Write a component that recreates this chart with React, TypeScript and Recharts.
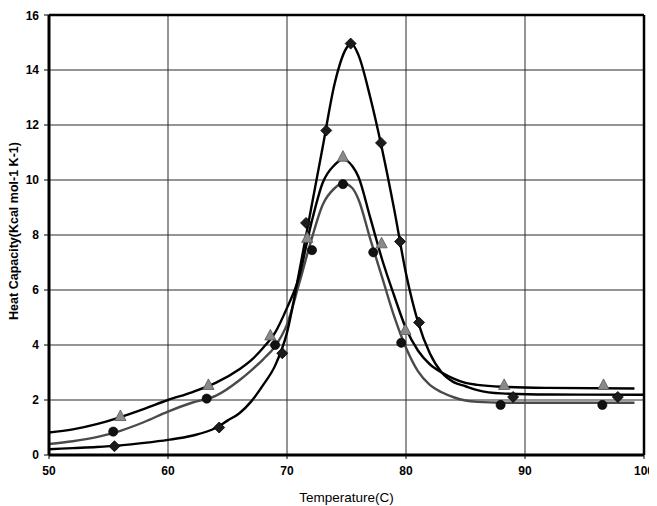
import {
  ComposedChart,
  Line,
  Scatter,
  XAxis,
  YAxis,
  CartesianGrid,
  ReferenceLine,
} from "recharts";

// axis ticks
const tempTicks = [50, 60, 70, 80, 90, 100];
const capTicks = [0, 2, 4, 6, 8, 10, 12, 14, 16];

// measured points
const diamondT = [55.5, 64.3, 69.6, 71.6, 73.3, 75.35, 77.9, 79.5, 81.1, 89.0, 97.8];
const diamondV = [0.32, 1.0, 3.7, 8.44, 11.8, 14.96, 11.35, 7.76, 4.82, 2.11, 2.11];

const circleT = [55.4, 63.25, 69.0, 72.1, 74.7, 77.25, 79.6, 87.95, 96.5];
const circleV = [0.85, 2.05, 4.0, 7.45, 9.85, 7.37, 4.08, 1.82, 1.82];

const triangleT = [56.0, 63.4, 68.6, 71.7, 74.7, 77.95, 79.95, 88.25, 96.6];
const triangleV = [1.42, 2.55, 4.35, 7.9, 10.85, 7.7, 4.55, 2.55, 2.55];

// fitted curves
const triFitT = [50, 52, 54, 56, 58, 60, 62, 64, 66, 67, 68, 69, 70, 71, 72, 73, 74, 74.7, 75.5, 76, 77, 78, 79, 80, 81, 82, 83, 84, 85, 86, 88, 92, 99.2];
const triFitV = [0.82, 0.93, 1.12, 1.38, 1.68, 2.0, 2.28, 2.62, 3.12, 3.45, 3.9, 4.45, 5.35, 6.45, 8.35, 9.9, 10.55, 10.75, 10.5, 10.12, 8.62, 7.1, 5.8, 4.6, 3.8, 3.3, 3.0, 2.78, 2.62, 2.55, 2.48, 2.44, 2.42];

const cirFitT = [50, 52, 54, 56, 58, 60, 62, 64, 66, 67, 68, 69, 70, 71, 72, 73, 74, 74.7, 75.5, 76, 77, 78, 79, 80, 81, 82, 83, 84, 85, 86, 88, 92, 99.2];
const cirFitV = [0.4, 0.5, 0.65, 0.88, 1.2, 1.58, 1.9, 2.15, 2.72, 3.08, 3.48, 3.95, 4.75, 6.2, 7.75, 9.1, 9.7, 9.88, 9.7, 9.3, 7.85, 6.45, 5.05, 3.9, 3.05, 2.55, 2.28, 2.1, 1.98, 1.93, 1.9, 1.9, 1.9];

const diaFitT = [50, 52, 54, 56, 58, 60, 62, 64, 65, 66, 67, 68, 69, 70, 71, 72, 73, 74, 75, 75.4, 76, 77, 78, 79, 80, 81, 82, 83, 84, 85, 86, 88, 92, 100];
const diaFitV = [0.21, 0.25, 0.29, 0.35, 0.44, 0.55, 0.7, 0.98, 1.25, 1.52, 1.95, 2.55, 3.25, 4.45, 6.6, 8.9, 11.2, 13.5, 14.8, 14.97, 14.55, 13.0, 11.1, 8.95, 6.6, 4.85, 3.7, 3.0, 2.65, 2.5, 2.36, 2.24, 2.2, 2.19];

const toPoints = (xs: number[], ys: number[]) => xs.map((x, i) => ({ x, y: ys[i] }));

const font = "'Liberation Sans', Arial, sans-serif";

const DiamondDot = (props: any) => {
  const { cx, cy } = props;
  const r = 5.5;
  return (
    <path
      d={`M${cx},${cy - r}L${cx + r},${cy}L${cx},${cy + r}L${cx - r},${cy}Z`}
      fill="#1c1c1c"
      stroke="#000"
      strokeWidth={0.8}
    />
  );
};

const CircleDot = (props: any) => {
  const { cx, cy } = props;
  return <circle cx={cx} cy={cy} r={4.6} fill="#111" stroke="#000" strokeWidth={0.6} />;
};

const TriangleDot = (props: any) => {
  const { cx, cy } = props;
  return (
    <path
      d={`M${cx},${cy - 6}L${cx + 5.6},${cy + 4.6}L${cx - 5.6},${cy + 4.6}Z`}
      fill="#8a8a8a"
      stroke="#555"
      strokeWidth={0.8}
    />
  );
};

export default function App() {
  return (
    <div style={{ width: 649, height: 498, background: "#fff" }}>
      <ComposedChart
        width={649}
        height={498}
        margin={{ top: 7, right: 13, left: 0, bottom: 0 }}
      >
        <CartesianGrid stroke="#2a2a2a" strokeWidth={1} />
        <XAxis
          dataKey="x"
          type="number"
          domain={[50, 100]}
          ticks={tempTicks}
          height={51}
          allowDataOverflow
          tickSize={4}
          tickMargin={7}
          axisLine={{ stroke: "#000", strokeWidth: 3 }}
          tickLine={{ stroke: "#000" }}
          tick={{ fill: "#000", fontSize: 12, fontWeight: 700, fontFamily: font }}
          label={{
            value: "Temperature(C)",
            position: "insideBottom",
            offset: 4,
            style: { fill: "#000", fontSize: 13.5, fontFamily: font },
          }}
        />
        <YAxis
          type="number"
          domain={[0, 16]}
          ticks={capTicks}
          width={41}
          allowDataOverflow
          tickSize={5}
          tickMargin={5}
          axisLine={{ stroke: "#000", strokeWidth: 3 }}
          tickLine={{ stroke: "#000" }}
          tick={{ fill: "#000", fontSize: 12, fontWeight: 700, fontFamily: font }}
          label={{
            value: "Heat Capacity(Kcal mol-1 K-1)",
            angle: -90,
            position: "insideLeft",
            offset: 6,
            dy: -4,
            style: { textAnchor: "middle", fill: "#000", fontSize: 12.5, fontWeight: 700, fontFamily: font },
          }}
        />
        <ReferenceLine y={16} stroke="#000" strokeWidth={2.5} />
        <ReferenceLine x={100} stroke="#000" strokeWidth={2.5} />

        <Line
          data={toPoints(cirFitT, cirFitV)}
          dataKey="y"
          type="monotone"
          stroke="#4a4a4a"
          strokeWidth={2.4}
          dot={false}
          isAnimationActive={false}
        />
        <Line
          data={toPoints(triFitT, triFitV)}
          dataKey="y"
          type="monotone"
          stroke="#000"
          strokeWidth={2.4}
          dot={false}
          isAnimationActive={false}
        />
        <Line
          data={toPoints(diaFitT, diaFitV)}
          dataKey="y"
          type="monotone"
          stroke="#000"
          strokeWidth={2.4}
          dot={false}
          isAnimationActive={false}
        />

        <Scatter
          data={toPoints(triangleT, triangleV)}
          dataKey="y"
          shape={TriangleDot}
          isAnimationActive={false}
        />
        <Scatter
          data={toPoints(circleT, circleV)}
          dataKey="y"
          shape={CircleDot}
          isAnimationActive={false}
        />
        <Scatter
          data={toPoints(diamondT, diamondV)}
          dataKey="y"
          shape={DiamondDot}
          isAnimationActive={false}
        />
      </ComposedChart>
    </div>
  );
}
